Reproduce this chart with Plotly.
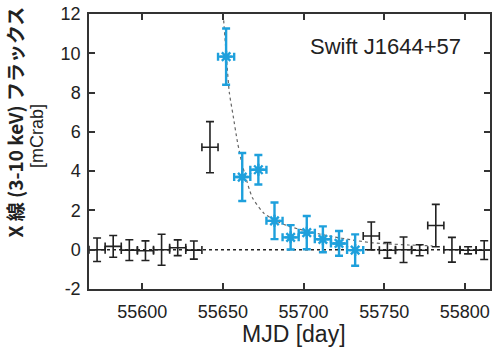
import plotly.graph_objects as go

# Black (non-highlighted) bins
black_mjd = [55572, 55582, 55592, 55602, 55612, 55622, 55632, 55642,
             55742, 55752, 55762, 55772, 55782, 55792, 55802, 55812]
black_flux = [0.0, 0.17, -0.02, -0.05, 0.0, 0.1, -0.02, 5.22,
              0.7, -0.03, 0.0, -0.03, 1.23, 0.0, -0.03, -0.02]
black_err = [0.6, 0.55, 0.53, 0.5, 0.79, 0.4, 0.46, 1.3,
             0.71, 0.4, 0.65, 0.28, 1.08, 0.63, 0.18, 0.48]
black_xerr = [5] * len(black_mjd)

# Blue (highlighted) bins
blue_mjd = [55652, 55662, 55672, 55682, 55692, 55702, 55712, 55722, 55732]
blue_flux = [9.83, 3.7, 4.07, 1.47, 0.63, 0.87, 0.53, 0.32, -0.02]
blue_err = [1.43, 1.22, 0.75, 0.93, 0.62, 0.85, 0.66, 0.63, 0.8]
blue_xerr = [5] * len(blue_mjd)

# Dashed decay curve
curve_mjd = [55650.2, 55652.2, 55654.0, 55656.4, 55659.0, 55662.1, 55668.3,
             55675.5, 55682.3, 55690.0, 55697.0, 55715.6, 55732.0, 55743.0,
             55752.0, 55765.0, 55780.0]
curve_flux = [12.0, 9.8, 8.0, 6.8, 5.5, 4.3, 2.65,
              1.85, 1.5, 1.22, 1.05, 0.7, 0.47, 0.35,
              0.3, 0.24, 0.2]

x_ticks = [55600, 55650, 55700, 55750, 55800]
y_ticks = [-2, 0, 2, 4, 6, 8, 10, 12]

BLUE = "#1ea0dc"
DARK = "#222222"
AX = "#333333"
SANS = "Liberation Sans, Arial, sans-serif"

fig = go.Figure()

fig.add_trace(go.Scatter(
    x=curve_mjd, y=curve_flux, mode="lines",
    line=dict(color="#666666", width=1.2, dash="3px,3px", shape="spline", smoothing=0.6),
    hoverinfo="skip", showlegend=False))

fig.add_trace(go.Scatter(
    x=black_mjd, y=black_flux, mode="markers",
    marker=dict(size=1, color=DARK),
    error_y=dict(type="data", array=black_err, color=DARK, thickness=1.6, width=4),
    error_x=dict(type="data", array=black_xerr, color=DARK, thickness=1.6, width=4),
    showlegend=False))

fig.add_trace(go.Scatter(
    x=blue_mjd, y=blue_flux, mode="markers",
    marker=dict(symbol="asterisk-open", size=10, color=BLUE, line=dict(color=BLUE, width=2.4)),
    error_y=dict(type="data", array=blue_err, color=BLUE, thickness=2.4, width=4),
    error_x=dict(type="data", array=blue_xerr, color=BLUE, thickness=2.4, width=4),
    showlegend=False))

fig.add_hline(y=0, line=dict(color=DARK, width=1.5, dash="dot"), layer="below")

axis_common = dict(
    showline=True, linecolor=AX, linewidth=1.5, mirror="ticks",
    ticks="inside", ticklen=6, tickwidth=1.5, tickcolor=AX,
    showgrid=False, zeroline=False, ticklabeloverflow="allow",
    tickfont=dict(family=SANS, size=18, color=DARK),
)

fig.update_xaxes(range=[55567, 55815.6], tickvals=x_ticks,
                 ticktext=[str(v) for v in x_ticks], ticklabelstandoff=6, **axis_common)
fig.update_yaxes(range=[-2, 12], tickvals=y_ticks,
                 ticktext=[str(v) for v in y_ticks], ticklabelstandoff=3, **axis_common)

fig.add_annotation(text="Swift J1644+57", xref="paper", yref="paper",
                   x=0.739, y=0.883, xanchor="center", yanchor="middle", showarrow=False,
                   font=dict(family=SANS, size=22, color=DARK))

fig.add_annotation(text="MJD [day]", xref="paper", yref="paper",
                   x=0.511, y=-0.165, xanchor="center", yanchor="middle", showarrow=False,
                   font=dict(family=SANS, size=23, color=DARK))

fig.add_annotation(text="<b>X 線 (3-10 keV) フラックス</b>", xref="paper", yref="paper",
                   x=-0.186, y=0.607, xanchor="center", yanchor="middle", showarrow=False,
                   textangle=-90,
                   font=dict(family="Noto Sans CJK JP", size=19, color=DARK))

fig.add_annotation(text="[mCrab]", xref="paper", yref="paper",
                   x=-0.129, y=0.557, xanchor="center", yanchor="middle", showarrow=False,
                   textangle=-90,
                   font=dict(family=SANS, size=18, color=DARK))

fig.update_layout(
    width=496, height=350,
    margin=dict(l=89, r=4, t=9, b=61),
    plot_bgcolor="white", paper_bgcolor="white",
)

fig.write_html("out.html", config={"displayModeBar": False},
               post_script="document.body.style.margin='0';document.body.style.overflow='hidden';")
